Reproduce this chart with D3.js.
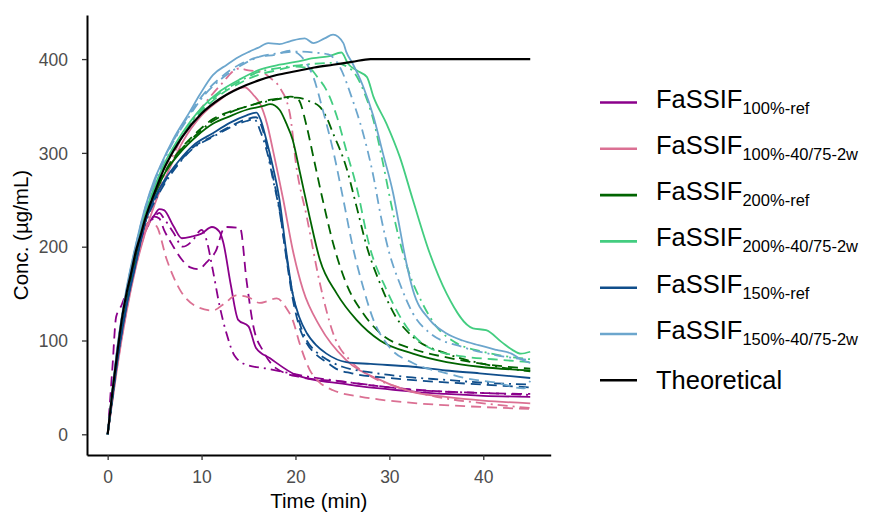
<!DOCTYPE html>
<html>
<head>
<meta charset="utf-8">
<script src="https://cdn.jsdelivr.net/npm/d3@7"></script>
<style>
  body { margin: 0; background: #fff; }
  text { font-family: "Liberation Sans", Arial, sans-serif; }
</style>
</head>
<body>
<script>
// values, [time (min), conc (ug/mL)]
const theoretical = [[0,0],[0.5,45],[1,85],[1.5,122],[2,150],[2.5,172],[3,195],[3.5,212],[4,230],[5,258],[6,283],[7,302],[8,318],[10,342],[12,358],[14,369],[16,377],[18,383],[20,387],[22,391],[24,394],[26,397],[28,400],[45,400]];

// FaSSIF 100%-ref
const f100ref_a = [[0,0],[0.5,45],[1,85],[2,145],[3,188],[4,218],[5,234],[5.5,240],[6,239],[7,222],[7.9,209],[9,211],[10,214],[11.1,221],[11.9,216],[12.3,205],[13.1,160],[13.9,122],[15,115],[15.8,92],[17.3,81],[20.1,63],[22,58],[25,54],[27,51],[30,48],[33,45],[36,43],[40,41],[45,40]];
const f100ref_b = [[0,0],[0.5,70],[0.9,125],[1.5,138],[2,152],[3,192],[4,220],[5,232],[5.5,230],[6,218],[7,200],[8,185],[8.8,178],[9.7,176],[10.5,183],[11.5,195],[12.5,221],[14.1,220],[14.8,163],[15.5,116],[16.6,88],[18,70],[20.5,61],[25,56],[30,50],[35,46],[40,44],[45,43]];
const f100ref_c = [[0,0],[0.5,42],[1,82],[2,142],[3,186],[4,216],[5,232],[5.5,236],[6,230],[7,215],[8,200],[9,206],[10,218],[10.5,208],[11.2,175],[11.9,138],[12.7,106],[13.5,84],[14.8,74],[17,70],[21,62],[26,55],[33,47],[40,44],[45,42]];

// FaSSIF 100%-40/75-2w
const f100st_a = [[0,0],[0.5,35],[1,70],[2,130],[3,178],[4,215],[5,245],[6,270],[7,292],[8,312],[10,340],[12,357],[13.5,367],[14.6,370],[15.5,362],[16.2,353],[17,330],[17.6,303],[18.7,250],[19.7,197],[20.8,154],[22.6,115],[25.4,79],[29,58],[32.5,45],[36,40],[40,36],[45,33]];
const f100st_b = [[0,0],[0.5,36],[1,72],[2,132],[3,180],[4,215],[4.5,226],[5.2,222],[6.3,186],[7.7,154],[9.5,136],[11.2,132],[12.5,140],[13.7,148],[15,146],[16.2,140],[17,142],[18,145],[19,135],[19.7,122],[20.5,95],[21.5,69],[22.5,56],[24,47],[27,40],[29,37],[33,33],[38,30],[45,27]];
const f100st_c = [[0,0],[0.5,38],[1,75],[2,135],[3,182],[4,220],[5,250],[6,276],[7,298],[8,318],[10,348],[12,372],[14,390],[15,388],[16.4,386],[17.3,380],[18.3,370],[19.4,342],[20.1,285],[21.2,232],[22.6,161],[24,108],[26.1,76],[28,62],[31,50],[35,40],[40,33],[45,28]];

// FaSSIF 200%-ref
const f200ref_a = [[0,0],[0.5,40],[1,80],[2,140],[3,186],[4,226],[5,255],[5.9,275],[7.7,300],[9.5,318],[11.2,331],[13,339],[14.8,346],[16.6,350],[17.3,352],[18.3,346],[19,332],[19.7,314],[20.5,278],[21.5,232],[22.6,186],[24.4,150],[26.5,122],[29,100],[32.5,86],[36.1,77],[39.6,72],[45,68]];
const f200ref_b = [[0,0],[0.5,42],[1,82],[2,142],[3,188],[4,228],[5,257],[6,278],[7.7,303],[9.5,322],[11.2,336],[13,344],[15,350],[17,356],[18.3,358],[19.5,360],[20.3,357],[21.2,328],[21.9,296],[22.9,250],[24,204],[25.4,161],[27.2,129],[29,108],[32.5,91],[36.1,82],[40,75],[45,70]];
const f200ref_c = [[0,0],[0.5,41],[1,81],[2,141],[3,187],[4,227],[5,256],[6,277],[7.7,302],[9.5,320],[11.2,334],[13,343],[15,350],[17,355],[18.5,358],[20.1,359],[21.5,355],[22.6,349],[23.3,338],[24,321],[25.4,285],[26.5,243],[27.6,200],[29,161],[30.7,125],[32.5,104],[36.1,86],[40,75],[45,67]];

// FaSSIF 200%-40/75-2w
const f200st_a = [[0,0],[0.5,45],[1,88],[2,152],[3,198],[4,236],[5,264],[6,288],[7,306],[8,322],[10,348],[12,366],[14,378],[16,388],[18.3,394],[20,397],[21.9,401],[23.5,403],[24.9,407],[25.6,395],[26.5,388],[27.6,381],[28.3,360],[29.7,331],[31.1,296],[32.5,250],[34.3,193],[36.1,150],[38.9,113],[40.3,111],[42,98],[43.1,90],[44,86],[45,88]];
const f200st_b = [[0,0],[0.5,43],[1,86],[2,150],[3,196],[4,234],[5,262],[6,285],[7,303],[8,318],[10,344],[12,362],[14,374],[16,383],[18,388],[20,392],[21.5,390],[22.4,380],[23.3,367],[24.4,339],[25.4,303],[26.5,264],[27.9,200],[29.7,154],[31.8,115],[34.3,92],[37.8,83],[41,80],[45,77]];
const f200st_c = [[0,0],[0.5,44],[1,87],[2,151],[3,197],[4,235],[5,263],[6,286],[7,305],[8,320],[10,346],[12,364],[14,376],[16,386],[18,390],[20,393],[22,395],[24,396],[25.5,392],[26.5,382],[27.3,365],[28.3,335],[29.3,290],[30.2,245],[31,210],[32,175],[33.5,140],[35,115],[37,98],[40,88],[45,80]];

// FaSSIF 150%-ref
const f150ref_a = [[0,0],[0.5,38],[1,76],[2,136],[3,182],[4,226],[5,252],[6,270],[7.7,293],[9,307],[11.2,321],[13,332],[14.8,340],[15.85,343],[16.3,335],[16.9,314],[17.6,285],[18.3,250],[19,196],[19.7,150],[20.4,125],[21.2,108],[22.2,95],[23.3,86],[25.4,77],[28,75],[32.5,72],[36,68],[39.6,65],[45,60]];
const f150ref_b = [[0,0],[0.5,40],[1,78],[2,138],[3,184],[4,226],[5,250],[6,268],[7.7,291],[9,305],[11.2,318],[13,328],[14.8,336],[15.8,338],[16.5,325],[17,305],[17.6,275],[18.3,240],[19,190],[19.7,145],[20.4,115],[21.2,97],[22.2,85],[23.3,77],[24.3,70],[26,65],[30,60],[35,56],[40,53],[45,50]];
const f150ref_c = [[0,0],[0.5,39],[1,77],[2,137],[3,183],[4,225],[5,248],[6,266],[7.7,290],[9,304],[11.2,317],[13,327],[14.8,334],[15.6,336],[16.3,322],[17,300],[17.6,272],[18.3,238],[19,192],[19.7,150],[20.4,120],[21.2,100],[22.2,88],[23.3,80],[25,72],[28,66],[32,61],[36,58],[40,55],[45,53]];

// FaSSIF 150%-40/75-2w
const f150st_a = [[0,0],[0.5,46],[1,90],[2,155],[3,202],[4,242],[5,272],[5.6,286],[7,315],[8.75,344],[9.8,362],[11.2,383],[12.7,394],[13.9,402],[15.1,408],[16,412],[17.1,417],[18.3,416],[19.4,419],[21,422],[21.9,417],[23.1,422],[24,426],[25.1,417],[25.4,408],[26.1,395],[27.2,371],[28.3,339],[29.3,300],[30.4,257],[31.1,220],[31.6,193],[32.5,154],[34.3,122],[36,108],[37.8,100],[39.5,95],[41.4,90],[43,86],[44,80],[45,76]];
const f150st_b = [[0,0],[0.5,45],[1,89],[2,153],[3,201],[4,241],[5,270],[6,294],[7,313],[8.5,338],[10,360],[12,380],[14,394],[16,402],[18,405],[19.4,409],[20.5,404],[21.2,395],[21.9,381],[22.9,346],[24,303],[25.1,250],[26.1,200],[27.2,157],[28.3,122],[30,93],[32.5,76],[36.1,65],[38,60],[41.4,55],[44.3,49],[45,57]];
const f150st_c = [[0,0],[0.5,44],[1,88],[2,152],[3,200],[4,240],[5,268],[6,292],[7,312],[8.5,336],[10,358],[12,378],[14,392],[16,402],[18,406],[20,408],[22,407],[23.5,405],[24.7,392],[26.1,356],[27.2,321],[28.3,275],[29.1,232],[30,193],[31.1,161],[32.5,129],[34.3,108],[37.8,93],[41,85],[45,79]];

const groupNames = ["100%-ref", "100%-40/75-2w", "200%-ref", "200%-40/75-2w", "150%-ref", "150%-40/75-2w"];
const groupColors = ["#8B008B", "#DB7093", "#006400", "#43CD80", "#104E8B", "#6CA6CD"];
const xTicks = [0, 10, 20, 30, 40];
const yTicks = [0, 100, 200, 300, 400];

const groupRuns = [
  [f100ref_a, f100ref_b, f100ref_c],
  [f100st_a, f100st_b, f100st_c],
  [f200ref_a, f200ref_b, f200ref_c],
  [f200st_a, f200st_b, f200st_c],
  [f150ref_a, f150ref_b, f150ref_c],
  [f150st_a, f150st_b, f150st_c]
];
const dashes = [null, "10,6", "2,5,10,5"];

const width = 876;
const height = 513;

const svg = d3.select("body")
  .append("svg")
  .attr("width", width)
  .attr("height", height);

const xScale = d3.scaleLinear().domain([-2.2, 47.18]).range([87, 550.7]);
const yScale = d3.scaleLinear().domain([-22.07, 447]).range([455, 15]);

const line = d3.line()
  .x((d) => xScale(d[0]))
  .y((d) => yScale(d[1]))
  .curve(d3.curveMonotoneX);

// replicate lines
groupRuns.forEach((runs, gi) => {
  runs.forEach((run, ri) => {
    svg.append("path")
      .datum(run)
      .attr("d", line)
      .attr("fill", "none")
      .attr("stroke", groupColors[gi])
      .attr("stroke-width", 1.8)
      .attr("stroke-dasharray", dashes[ri]);
  });
});

svg.append("path")
  .datum(theoretical)
  .attr("d", line)
  .attr("fill", "none")
  .attr("stroke", "#000")
  .attr("stroke-width", 2.2);

// axes
const xAxis = d3.axisBottom(xScale).tickValues(xTicks).tickSize(5).tickSizeOuter(0);
const gx = svg.append("g")
  .attr("transform", "translate(0,455)")
  .call(xAxis);
gx.select(".domain").attr("stroke", "#000").attr("stroke-width", 2);
gx.selectAll(".tick line").attr("stroke", "#333").attr("stroke-width", 1.3);
gx.selectAll(".tick text")
  .attr("y", 28).attr("dy", null)
  .attr("fill", "#4d4d4d")
  .style("font-size", "17.5px");

const yAxis = d3.axisLeft(yScale).tickValues(yTicks).tickSize(5).tickSizeOuter(0);
const gy = svg.append("g")
  .attr("transform", "translate(87,0)")
  .call(yAxis);
gy.select(".domain").attr("stroke", "#000").attr("stroke-width", 2);
gy.selectAll(".tick line").attr("stroke", "#333").attr("stroke-width", 1.3);
gy.selectAll(".tick text")
  .attr("x", -19).attr("dy", "0.35em")
  .attr("fill", "#4d4d4d")
  .style("font-size", "17.5px");

svg.append("text")
  .attr("x", (87 + 550.7) / 2)
  .attr("y", 508)
  .attr("text-anchor", "middle")
  .style("font-size", "20.5px")
  .text("Time (min)");

svg.append("text")
  .attr("transform", "translate(28,235) rotate(-90)")
  .attr("text-anchor", "middle")
  .style("font-size", "20.5px")
  .text("Conc. (µg/mL)");

// legend
const legend = svg.append("g");
const rowY = (i) => 102.5 + i * 46.3;

groupNames.forEach((name, i) => {
  legend.append("line")
    .attr("x1", 600).attr("x2", 637)
    .attr("y1", rowY(i)).attr("y2", rowY(i))
    .attr("stroke", groupColors[i])
    .attr("stroke-width", 2.6);
  const t = legend.append("text")
    .attr("x", 656)
    .attr("y", rowY(i) + 5)
    .style("font-size", "25.5px");
  t.append("tspan").text("FaSSIF");
  t.append("tspan").attr("dy", 6).style("font-size", "16.5px").text(name);
});

legend.append("line")
  .attr("x1", 600).attr("x2", 637)
  .attr("y1", rowY(6)).attr("y2", rowY(6))
  .attr("stroke", "#000")
  .attr("stroke-width", 2.6);
legend.append("text")
  .attr("x", 656)
  .attr("y", rowY(6) + 9)
  .style("font-size", "25.5px")
  .text("Theoretical");
</script>
</body>
</html>
